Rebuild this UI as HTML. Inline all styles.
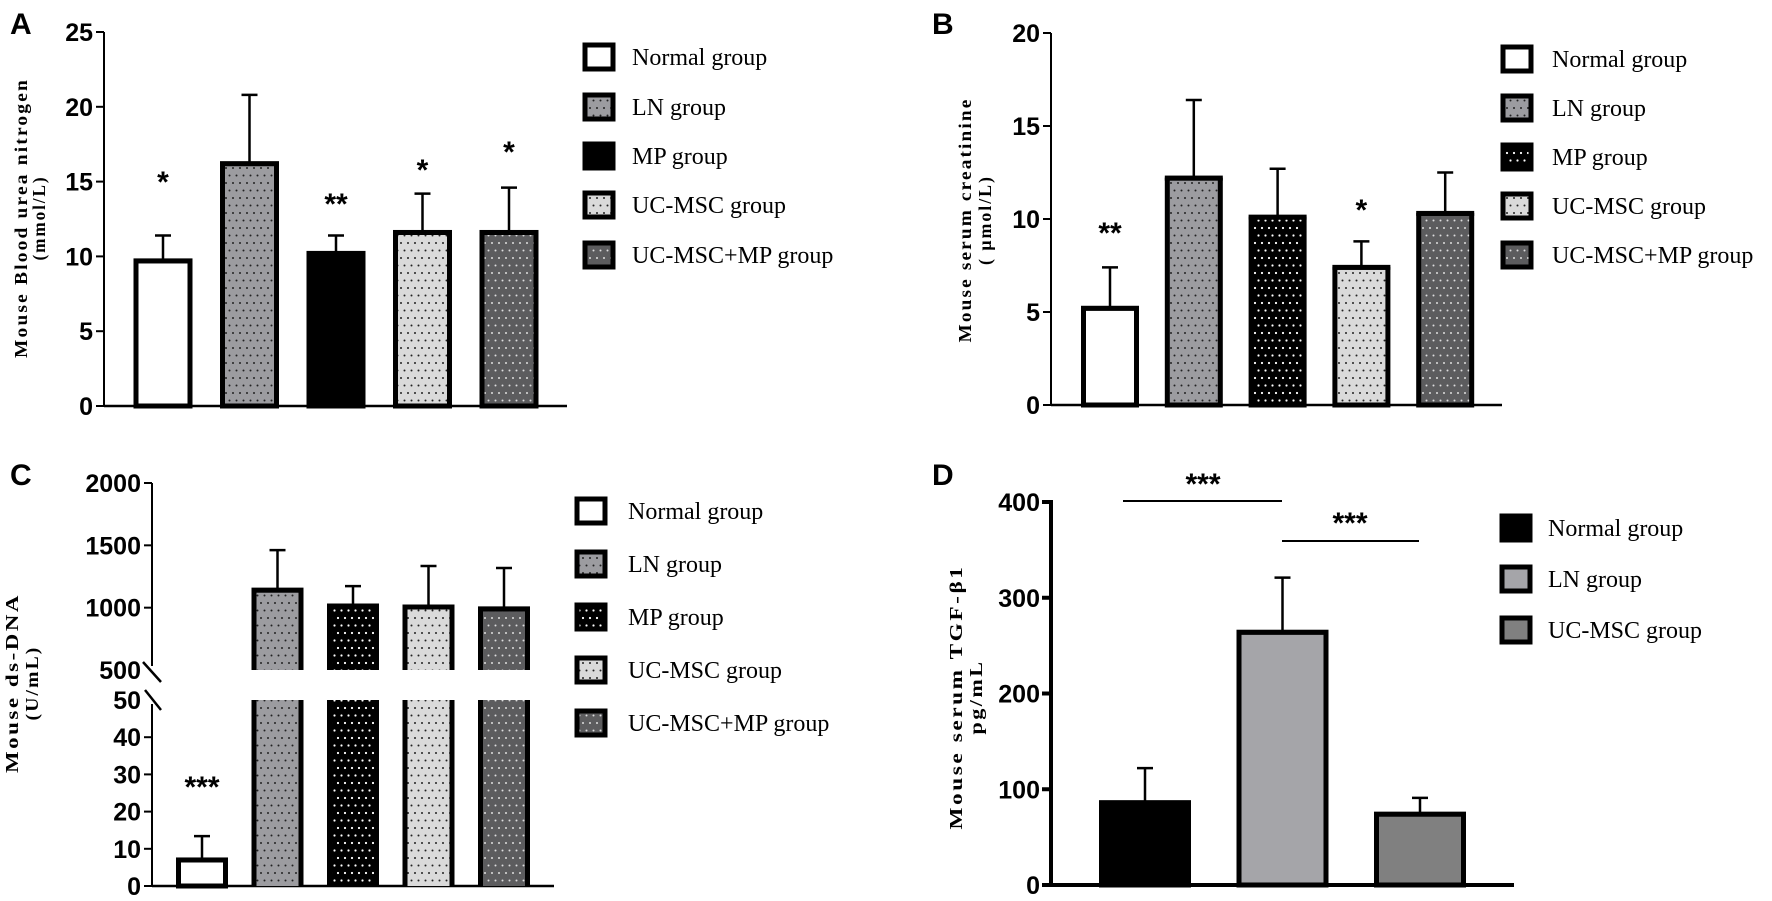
<!DOCTYPE html>
<html><head><meta charset="utf-8">
<style>
html,body{margin:0;padding:0;background:#fff;}
svg{display:block;}
.tick{font-family:"Liberation Sans",Arial,sans-serif;font-weight:bold;font-size:25px;}
.ytitle{font-family:"Liberation Serif","Times New Roman",serif;font-weight:bold;font-size:18px;letter-spacing:2px;}
.leg{font-family:"Liberation Serif","Times New Roman",serif;font-size:24px;}
.plabel{font-family:"Liberation Sans",Arial,sans-serif;font-weight:bold;font-size:30px;}
.star{font-family:"Liberation Sans",Arial,sans-serif;font-weight:bold;font-size:30px;}
</style></head>
<body>
<svg id="fig" width="1772" height="901" viewBox="0 0 1772 901" xmlns="http://www.w3.org/2000/svg">
<defs>
<pattern id="pLN" width="7" height="15" patternUnits="userSpaceOnUse"><rect width="7" height="15" fill="#9c9ca0"/><circle cx="2" cy="3" r="1" fill="#222"/><circle cx="5.5" cy="10.5" r="1" fill="#222"/></pattern>
<pattern id="pMP" width="7" height="15" patternUnits="userSpaceOnUse"><rect width="7" height="15" fill="#000"/><circle cx="2" cy="3" r="1.1" fill="#fff"/><circle cx="5.5" cy="10.5" r="1.1" fill="#fff"/></pattern>
<pattern id="pUC" width="7" height="15" patternUnits="userSpaceOnUse"><rect width="7" height="15" fill="#dadada"/><circle cx="2" cy="3" r="1" fill="#222"/><circle cx="5.5" cy="10.5" r="1" fill="#222"/></pattern>
<pattern id="pUM" width="7" height="15" patternUnits="userSpaceOnUse"><rect width="7" height="15" fill="#5c5c5e"/><circle cx="2" cy="3" r="1" fill="#ddd"/><circle cx="5.5" cy="10.5" r="1" fill="#ddd"/></pattern>
</defs>
</svg>
<script>
// ---------- data ----------
const groupsABC = ["Normal group","LN group","MP group","UC-MSC group","UC-MSC+MP group"];
const aMeans = [9.7, 16.2, 10.2, 11.6, 11.6];
const aErrs  = [11.4, 20.8, 11.4, 14.2, 14.6];
const aStars = ["*","","**","*","*"];
const aTicks = [0,5,10,15,20,25];
const bMeans = [5.2, 12.2, 10.1, 7.4, 10.3];
const bErrs  = [7.4, 16.4, 12.7, 8.8, 12.5];
const bStars = ["**","","","*",""];
const bTicks = [0,5,10,15,20];
const cMeans = [7, 1141, 1013, 1005, 990];
const cErrs  = [13.4, 1462, 1173, 1334, 1318];
const cStars = ["***","","","",""];
const cTicksLow = [0,10,20,30,40,50];
const cTicksHigh = [500,1000,1500,2000];
const groupsD = ["Normal group","LN group","UC-MSC group"];
const dMeans = [86, 264, 74];
const dErrs  = [122, 321, 91];
const dTicks = [0,100,200,300,400];

const NS="http://www.w3.org/2000/svg";
const svg=document.getElementById('fig');
function mk(tag,attrs,parent){const e=document.createElementNS(NS,tag);for(const k in attrs)e.setAttribute(k,attrs[k]);(parent||svg).appendChild(e);return e;}
function txt(s,x,y,cls,parent,anchor){const e=mk('text',{x:x,y:y,class:cls,'text-anchor':anchor||'start'},parent);e.textContent=s;return e;}

const fillsABC=["#fff","url(#pLN)","url(#pMP)","url(#pUC)","url(#pUM)"];
const fillsA=["#fff","url(#pLN)","#000","url(#pUC)","url(#pUM)"];
const fillsD=["#000","#a5a5a9","#808080"];

function legend(g,names,fills,sx,tx,ys){
  names.forEach((n,i)=>{
    const sw=mk('rect',{x:sx+2,y:ys[i]-12,width:28,height:24,fill:fills[i],stroke:'#000','stroke-width':5},g);
    
    
    const t=txt(n,tx,ys[i]+8,'leg',g);
    
    
  });
}
function ytitle(g,lines,xs,cy,len){
  lines.forEach((l,i)=>{
    const t=mk('text',{x:0,y:0,class:'ytitle','text-anchor':'middle',transform:`translate(${xs[i]},${cy}) rotate(-90)`},g);
    if(len[i]) {t.setAttribute('textLength',len[i]);t.setAttribute('lengthAdjust','spacingAndGlyphs');}
    t.textContent=l;
    
    
  });
}
function bar(g,x,w,yTop,yBot,fill,name,openBottom){
  const r=mk('rect',{x:x,y:yTop,width:w,height:Math.max(0,yBot-yTop),fill:fill,stroke:'#000','stroke-width':5},g);
  
  
  if(!openBottom) mk('line',{x1:x-2.5,x2:x+w+2.5,y1:yTop+1,y2:yTop+1,stroke:'#000','stroke-width':3},g);
}
function errbar(g,cx,yTop,yErr,name){
  const e=mk('path',{d:`M${cx},${yTop} V${yErr} M${cx-8},${yErr} H${cx+8}`,stroke:'#000','stroke-width':2.5,fill:'none'},g);
  
  
}

// ---------- generic panel (A, B) ----------
function panel(cfg){
  const g=mk('g',{});
  
  
  const y=v=>cfg.y0-(v-cfg.min)*(cfg.y0-cfg.yTop)/(cfg.max-cfg.min);
  const pl=txt(cfg.label,cfg.lx,cfg.ly,'plabel',g);
  
  
  const ax=mk('line',{x1:cfg.ax,x2:cfg.ax,y1:y(cfg.max),y2:cfg.y0,stroke:'#000','stroke-width':2},g);
  
  
  const bx=mk('line',{x1:cfg.ax,x2:cfg.axEnd,y1:cfg.y0,y2:cfg.y0,stroke:'#000','stroke-width':2.5},g);
  
  
  cfg.ticks.forEach(t=>{
    mk('line',{x1:cfg.ax-8,x2:cfg.ax,y1:y(t),y2:y(t),stroke:'#000','stroke-width':2},g);
    const tl=txt(String(t),cfg.ax-11,y(t)+9,'tick',g,'end');
    
    
  });
  cfg.means.forEach((m,i)=>{
    const cx=cfg.c0+i*cfg.step, w=cfg.bw;
    errbar(g,cx,y(m),y(cfg.errs[i]),'error-bar-'+(i+1));
    bar(g,cx-w/2,w,y(m),cfg.y0,cfg.fills[i],'bar-'+(i+1));
    if(cfg.stars[i]){
      const sy=cfg.starY(i);
      const s=txt(cfg.stars[i],cx,sy,'star',g,'middle');
      
      
    }
  });
  ytitle(g,cfg.titles,cfg.titleX,cfg.titleY,cfg.titleLen);
  legend(g,cfg.names,cfg.fills,cfg.sx,cfg.tx,cfg.legY);
}

panel({name:'panel-a-blood-urea-nitrogen',label:'A',lx:10,ly:34,ax:104,axEnd:567,y0:406,yTop:32,min:0,max:25,
  ticks:aTicks,means:aMeans,errs:aErrs,stars:aStars,c0:163,step:86.5,bw:54,fills:fillsA,
  starY:i=>[192,0,214,180,162][i],
  titles:["Mouse Blood urea nitrogen","(mmol/L)"],titleX:[27,45],titleY:218,titleLen:[280,85],
  names:groupsABC,sx:583,tx:632,legY:[57,107,156,205,255]});

panel({name:'panel-b-serum-creatinine',label:'B',lx:932,ly:34,ax:1051,axEnd:1502,y0:405,yTop:33,min:0,max:20,
  ticks:bTicks,means:bMeans,errs:bErrs,stars:bStars,c0:1110,step:83.8,bw:53,fills:fillsABC,
  starY:i=>[243,0,0,220,0][i],
  titles:["Mouse serum creatinine","( μmol/L)"],titleX:[971,991],titleY:220,titleLen:[245,90],
  names:groupsABC,sx:1501,tx:1552,legY:[59,108,157,206,255]});

// ---------- panel C (broken axis) ----------
(function(){
  const g=mk('g',{});
  
  
  const ax=152, y0=886, yLow50=700, yHigh500=670, yHigh2000=483;
  const yL=v=>y0-v*(y0-yLow50)/50;
  const yH=v=>yHigh500-(v-500)*(yHigh500-yHigh2000)/1500;
  const pl=txt('C',10,485,'plabel',g);
  
  
  const a1=mk('line',{x1:ax,x2:ax,y1:yHigh2000,y2:666,stroke:'#000','stroke-width':2},g);
  
  
  const a2=mk('line',{x1:ax,x2:ax,y1:704,y2:y0,stroke:'#000','stroke-width':2},g);
  
  
  const br=mk('path',{d:'M143,662 L161,682 M145,690 L161,710',stroke:'#000','stroke-width':2.5},g);
  
  
  const bx=mk('line',{x1:ax,x2:554,y1:y0,y2:y0,stroke:'#000','stroke-width':2.5},g);
  
  
  cTicksLow.forEach(t=>{
    if(t!==50) mk('line',{x1:ax-8,x2:ax,y1:yL(t),y2:yL(t),stroke:'#000','stroke-width':2},g);
    const tl=txt(String(t),ax-11,yL(t)+9,'tick',g,'end');
    
    
  });
  cTicksHigh.forEach(t=>{
    if(t!==500) mk('line',{x1:ax-8,x2:ax,y1:yH(t),y2:yH(t),stroke:'#000','stroke-width':2},g);
    const tl=txt(String(t),ax-11,yH(t)+9,'tick',g,'end');
    
    
  });
  const c0=202, step=75.5, bw=47;
  cMeans.forEach((m,i)=>{
    const cx=c0+i*step;
    if(m<=50){
      errbar(g,cx,yL(m),yL(cErrs[i]),'error-bar-'+(i+1));
      bar(g,cx-bw/2,bw,yL(m),y0,fillsABC[i],'bar-'+(i+1));
    } else {
      errbar(g,cx,yH(m),yH(cErrs[i]),'error-bar-'+(i+1));
      const r=mk('rect',{x:cx-bw/2,y:yH(m),width:bw,height:yHigh500-yH(m),fill:fillsABC[i]},g);
      
      
      mk('path',{d:`M${cx-bw/2},${yHigh500} V${yH(m)} H${cx+bw/2} V${yHigh500}`,stroke:'#000','stroke-width':5,fill:'none'},g);
      mk('line',{x1:cx-bw/2-2.5,x2:cx+bw/2+2.5,y1:yH(m)+1,y2:yH(m)+1,stroke:'#000','stroke-width':3},g);
      const r2=mk('rect',{x:cx-bw/2,y:yLow50,width:bw,height:y0-yLow50,fill:fillsABC[i]},g);
      
      
      mk('path',{d:`M${cx-bw/2},${yLow50} V${y0} M${cx+bw/2},${yLow50} V${y0}`,stroke:'#000','stroke-width':5},g);
    }
    if(cStars[i]){
      const s=txt(cStars[i],cx,797,'star',g,'middle');
      
      
    }
  });
  ytitle(g,["Mouse ds-DNA","(U/mL)"],[18,38],683,[180,75]);
  legend(g,groupsABC,fillsABC,575,628,[511,564,617,670,723]);
})();

// ---------- panel D ----------
(function(){
  const g=mk('g',{});
  
  
  const ax=1051, y0=885, yTop=502;
  const y=v=>y0-v*(y0-yTop)/400;
  const pl=txt('D',932,485,'plabel',g);
  
  
  const a=mk('line',{x1:ax,x2:ax,y1:yTop-2,y2:y0,stroke:'#000','stroke-width':4},g);
  
  
  const bx=mk('line',{x1:ax,x2:1514,y1:y0,y2:y0,stroke:'#000','stroke-width':4},g);
  
  
  dTicks.forEach(t=>{
    mk('line',{x1:ax-9,x2:ax,y1:y(t),y2:y(t),stroke:'#000','stroke-width':4},g);
    const tl=txt(String(t),ax-11,y(t)+9,'tick',g,'end');
    
    
  });
  const c0=1145, step=137.5, bw=87;
  dMeans.forEach((m,i)=>{
    const cx=c0+i*step;
    errbar(g,cx,y(m),y(dErrs[i]),'error-bar-'+(i+1));
    bar(g,cx-bw/2,bw,y(m),y0,fillsD[i],'bar-'+(i+1));
  });
  const s1=mk('line',{x1:1123,x2:1282,y1:501,y2:501,stroke:'#000','stroke-width':2},g);
  
  
  const t1=txt('***',1203,494,'star',g,'middle');
  
  
  const s2=mk('line',{x1:1282,x2:1419,y1:541,y2:541,stroke:'#000','stroke-width':2},g);
  
  
  const t2=txt('***',1350,533,'star',g,'middle');
  
  
  ytitle(g,["Mouse serum TGF-β1","pg/mL"],[962,982],697,[265,75]);
  legend(g,groupsD,fillsD,1500,1548,[528,579,630]);
})();
</script>
</body></html>
